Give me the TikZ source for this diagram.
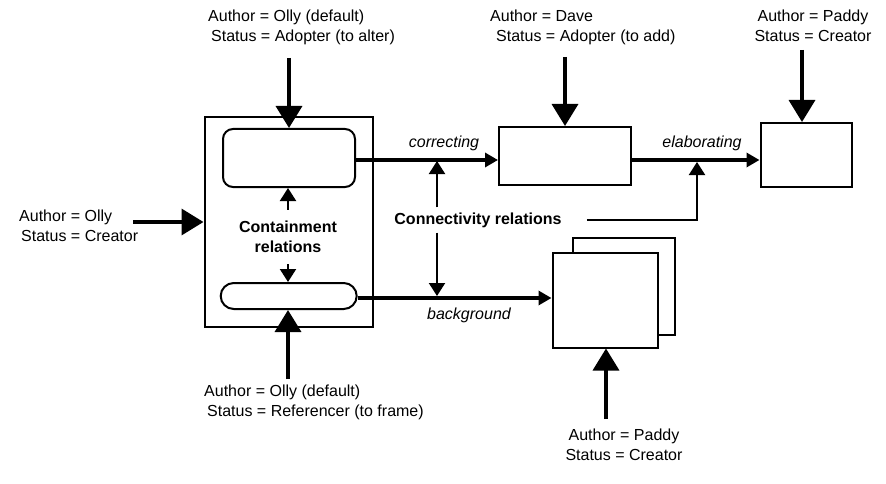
\documentclass[tikz,border=0pt]{standalone}
\usepackage{fontspec}
\setmainfont{Liberation Sans}
\usepackage{tikz}
\usetikzlibrary{arrows.meta}

\begin{document}
\begin{tikzpicture}[
  x=1pt, y=-1pt,
  font=\fontsize{16}{20}\selectfont,
  who/.style={align=left, inner sep=0pt, anchor=west},
  whoc/.style={align=center, inner sep=0pt},
  box/.style={draw, line width=2pt, inner sep=0pt},
  pill/.style={box, rounded corners=10pt},
  rel/.style={font=\fontsize{16}{20}\selectfont\bfseries, align=center},
  lab/.style={font=\fontsize{16}{20}\selectfont\itshape},
  bigarr/.style={-{Triangle[width=26pt, length=22pt]}, line width=3.5pt},
  midarr/.style={-{Triangle[width=14pt, length=13pt]}, line width=4pt},
  thinarr/.style={-{Triangle[width=16pt, length=13pt]}, line width=2pt},
]
\useasboundingbox (0, 0) rectangle (886, 484);
\node[box, minimum width=168.5pt, minimum height=209.5pt] (cont) at (288.75, 221.75) {};
\node[pill, minimum width=132pt, minimum height=58pt] (upper) at (289, 158) {};
\node[pill, rounded corners=13pt, minimum width=136pt, minimum height=26pt] (lower) at (288.7, 296) {};
\node[rel, inner xsep=2pt, inner ysep=11pt] (crel) at (288, 237) {Containment\\relations};
\node[box, minimum width=132pt, minimum height=58pt] (fix) at (565, 156) {};
\node[box, minimum width=91pt, minimum height=64pt] (extend) at (806, 155) {};
\node[box, minimum width=102pt, minimum height=97pt] (bgback) at (624, 286.7) {};
\node[box, fill=white, minimum width=105pt, minimum height=95pt] (bgfront) at (605, 300) {};
\node[rel, inner sep=5pt] (conn) at (478, 220) {Connectivity relations};

\node[who] (ollyup) at (208, 27) {Author = Olly (default)\\\hspace*{3pt}Status = Adopter (to alter)};
\node[who] (dave) at (490, 27) {Author = Dave\\\hspace*{6pt}Status = Adopter (to add)};
\node[whoc] (paddyup) at (813, 26) {Author = Paddy\\Status = Creator};
\node[who] (ollyleft) at (19, 226) {Author = Olly\\\hspace*{2pt}Status = Creator};
\node[who] (ollydown) at (204, 402) {Author = Olly (default)\\\hspace*{3pt}Status = Referencer (to frame)};
\node[whoc] (paddydown) at (624, 445) {Author = Paddy\\Status = Creator};

\node[lab] (lcorr) at (444, 143) {correcting};
\node[lab] (lelab) at (702, 143) {elaborating};
\node[lab] (lback) at (469, 315) {background};

\coordinate (ey) at (0, 160);
\coordinate (by) at (0, 298);
\coordinate (cu) at (437, 161);
\coordinate (cd) at (437, 296);
\coordinate (ej) at (697, 162);
\coordinate (t0) at (133, 222);
\coordinate (t1) at (289, 58);
\coordinate (t2) at (565, 57);
\coordinate (t3) at (802, 50);
\coordinate (t4) at (288, 379);
\coordinate (t5) at (606, 419);

\draw[thinarr] (crel.north) -- (crel.north |- upper.south);
\draw[thinarr] (crel.south) -- (crel.south |- lower.north);
\draw[midarr] (upper.east |- ey) -- (fix.west |- ey);
\draw[midarr] (fix.east |- ey) -- (extend.west |- ey);
\draw[midarr] (lower.east |- by) -- (bgfront.west |- by);
\draw[thinarr] (conn.north -| cu) -- (cu);
\draw[thinarr] (conn.south -| cd) -- (cd);
\draw[thinarr] ([xshift=20pt]conn.east) -| (ej);

\draw[bigarr] (t0) -- (t0 -| cont.west);
\draw[bigarr] (t1) -- (t1 |- upper.north);
\draw[bigarr] (t2) -- (t2 |- fix.north);
\draw[bigarr] (t3) -- (t3 |- extend.north);
\draw[bigarr] (t4) -- (t4 |- lower.south);
\draw[bigarr] (t5) -- (t5 |- bgfront.south);
\end{tikzpicture}
\end{document}
